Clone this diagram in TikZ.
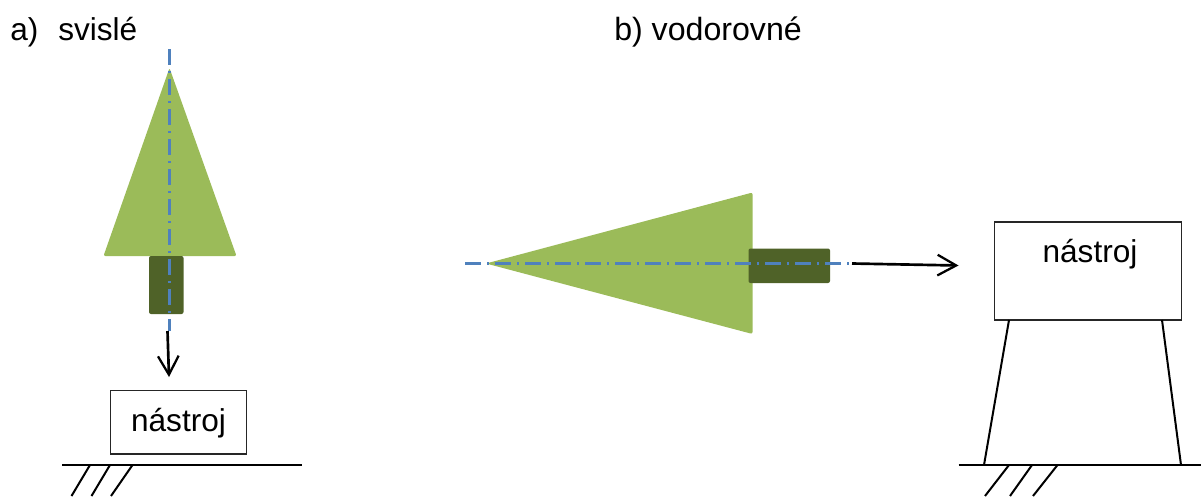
\documentclass[tikz,border=0pt]{standalone}
\usepackage{fontspec}
\setmainfont{Liberation Sans}
\usetikzlibrary{arrows.meta}
\definecolor{cone}{HTML}{9BBB59}
\definecolor{shank}{HTML}{4F6228}
\definecolor{axisblue}{HTML}{4F81BD}
\tikzset{
  conefill/.style={fill=cone,rounded corners=1.5pt},
  shankfill/.style={fill=shank,rounded corners=1.5pt},
  axisline/.style={draw=axisblue,line width=1.7pt,dash pattern=on 12pt off 4.5pt on 1.5pt off 4.5pt},
  motion/.style={draw=black,line width=2pt,-{Straight Barb[length=14pt,width=15.5pt,line width=1.7pt]}},
  toolbox/.style={draw=black!85,line width=1.1pt,fill=white,inner sep=0pt,outer sep=0pt},
  toollabel/.style={font=\fontsize{23.7pt}{26pt}\selectfont,anchor=base,inner sep=0pt},
  caption/.style={font=\fontsize{23.7pt}{26pt}\selectfont,anchor=base west,inner sep=0pt},
  captionwide/.style={font=\fontsize{24.1pt}{26pt}\selectfont,anchor=base west,inner sep=0pt},
  solidline/.style={draw=black,line width=1.5pt}
}
\begin{document}
\begin{tikzpicture}[x=0.75pt,y=-0.75pt]
\useasboundingbox (0,0) rectangle (1201,496);
% a) vertical
\path[conefill] (169.5,68) -- (236.5,256) -- (103.5,256) -- cycle;
\path[shankfill] (149,256) rectangle (183.5,314);
\coordinate (atop) at (169.5,49);
\coordinate (abot) at (169.5,331);
\draw[axisline] (atop) -- (abot);
\coordinate (astart) at (167.5,331);
\coordinate (atip) at (169,377);
\draw[motion] (astart) -- (atip);
\node[toolbox,minimum width=102pt,minimum height=47.6pt] (boxa) at (178.5,422.3) {};
\node[toollabel] (labela) at (178.5,431) {nástroj};
\coordinate (gal) at (62,465);
\coordinate (gar) at (302,465);
\draw[solidline] (gal) -- (gar);
\coordinate (ha1) at (90,465); \coordinate (ha1e) at (71.5,496);
\coordinate (ha2) at (110,465); \coordinate (ha2e) at (91.5,496);
\coordinate (ha3) at (132.5,465); \coordinate (ha3e) at (111,496);
\draw[solidline] (ha1) -- (ha1e) (ha2) -- (ha2e) (ha3) -- (ha3e);
% b) horizontal
\path[conefill] (486,263.5) -- (752.5,192.5) -- (752.5,334) -- cycle;
\path[shankfill] (748.5,248.5) rectangle (830,283);
\coordinate (bleft) at (465,263.5);
\coordinate (bright) at (851,263.5);
\draw[axisline] (bleft) -- (bright);
\coordinate (bstart) at (852,263.5);
\coordinate (btip) at (958.5,265.5);
\draw[motion] (bstart) -- (btip);
\node[toolbox,minimum width=140.25pt,minimum height=73.5pt] (boxb) at (1087.8,271) {};
\node[toollabel] (labelb) at (1090,262) {nástroj};
\coordinate (gbl) at (958.5,465);
\coordinate (gbr) at (1201,465);
\coordinate (l1) at (1009,320); \coordinate (l1e) at (984,465);
\coordinate (l2) at (1162,320); \coordinate (l2e) at (1181,465);
\draw[solidline] (l1) -- (l1e) (l2) -- (l2e);
\draw[solidline] (gbl) -- (gbr);
\coordinate (hb1) at (1009,465); \coordinate (hb1e) at (985,496);
\coordinate (hb2) at (1032,465); \coordinate (hb2e) at (1010,496);
\coordinate (hb3) at (1057.5,465); \coordinate (hb3e) at (1033,496);
\draw[solidline] (hb1) -- (hb1e) (hb2) -- (hb2e) (hb3) -- (hb3e);
% captions
\node[caption] (capa) at (10,40) {a)};
\node[caption] (capa2) at (58,40) {svislé};
\node[captionwide] (capb) at (614,40) {b) vodorovné};
\end{tikzpicture}
\end{document}
